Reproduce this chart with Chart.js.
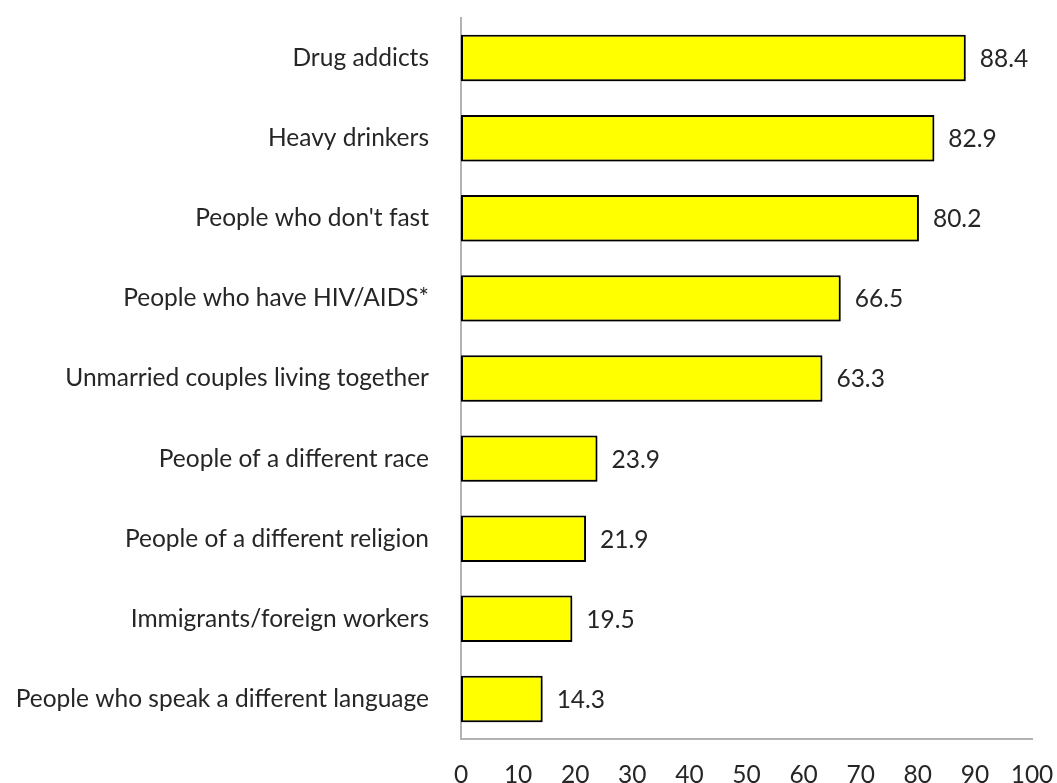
<!DOCTYPE html>
<html>
<head>
<meta charset="utf-8">
<script src="https://cdn.jsdelivr.net/npm/chart.js@4"></script>
<style>
	html, body { margin: 0; padding: 0; background: #fff; }
	#wrap { width: 1057px; height: 783px; }
</style>
</head>
<body>
<div id="wrap"><canvas id="chart"></canvas></div>
<script>
var categories = [
	"Drug addicts",
	"Heavy drinkers",
	"People who don't fast",
	"People who have HIV/AIDS*",
	"Unmarried couples living together",
	"People of a different race",
	"People of a different religion",
	"Immigrants/foreign workers",
	"People who speak a different language"
];
var values = [88.4, 82.9, 80.2, 66.5, 63.3, 23.9, 21.9, 19.5, 14.3];
var xTicks = [0, 10, 20, 30, 40, 50, 60, 70, 80, 90, 100];

var fontFamily = "Lato, 'Open Sans', sans-serif";
var fontSize = 24.5;
var textColor = "#262626";

// soft drop shadow under the bars
var barShadow = {
	id: "barShadow",
	beforeDatasetsDraw: function(chart) {
		var ctx = chart.ctx;
		ctx.save();
		ctx.shadowColor = "rgba(0,0,0,0.35)";
		ctx.shadowBlur = 5;
		ctx.shadowOffsetX = 2;
		ctx.shadowOffsetY = 3;
	},
	afterDatasetsDraw: function(chart) {
		chart.ctx.restore();
	}
};

// value printed to the right of each bar
var valueLabels = {
	id: "valueLabels",
	afterDraw: function(chart) {
		var ctx = chart.ctx;
		var meta = chart.getDatasetMeta(0);
		ctx.save();
		ctx.font = fontSize + "px " + fontFamily;
		ctx.fillStyle = textColor;
		ctx.textAlign = "left";
		ctx.textBaseline = "middle";
		meta.data.forEach(function(bar, i) {
			ctx.fillText(values[i].toFixed(1), bar.x + 14, bar.y + 1);
		});
		ctx.restore();
	}
};

new Chart(document.getElementById("chart"), {
	type: "bar",
	data: {
		labels: categories,
		datasets: [{
			data: values,
			backgroundColor: "#ffff00",
			borderColor: "#000000",
			borderWidth: 2,
			borderSkipped: false,
			barPercentage: 0.58,
			categoryPercentage: 1
		}]
	},
	options: {
		indexAxis: "y",
		responsive: true,
		maintainAspectRatio: false,
		animation: false,
		layout: { padding: { top: 18, right: 25, left: 0, bottom: 0 } },
		plugins: {
			legend: { display: false },
			tooltip: { enabled: false }
		},
		scales: {
			x: {
				min: 0,
				max: 100,
				afterBuildTicks: function(axis) {
					axis.ticks = xTicks.map(function(v) { return { value: v }; });
				},
				afterFit: function(axis) {
					axis.height = 44;
					axis.paddingLeft = 0;
					axis.paddingRight = 0;
				},
				grid: { display: false },
				border: { display: true, color: "#b3b3b3", width: 2 },
				ticks: {
					padding: 13,
					color: textColor,
					font: { family: fontFamily, size: fontSize },
					maxRotation: 0
				}
			},
			y: {
				afterFit: function(axis) {
					axis.width = 461;
					axis.paddingTop = 0;
					axis.paddingBottom = 0;
				},
				grid: { display: false },
				border: { display: true, color: "#b3b3b3", width: 2 },
				ticks: {
					padding: 24,
					color: textColor,
					font: { family: fontFamily, size: fontSize }
				}
			}
		}
	},
	plugins: [barShadow, valueLabels]
});
</script>
</body>
</html>
